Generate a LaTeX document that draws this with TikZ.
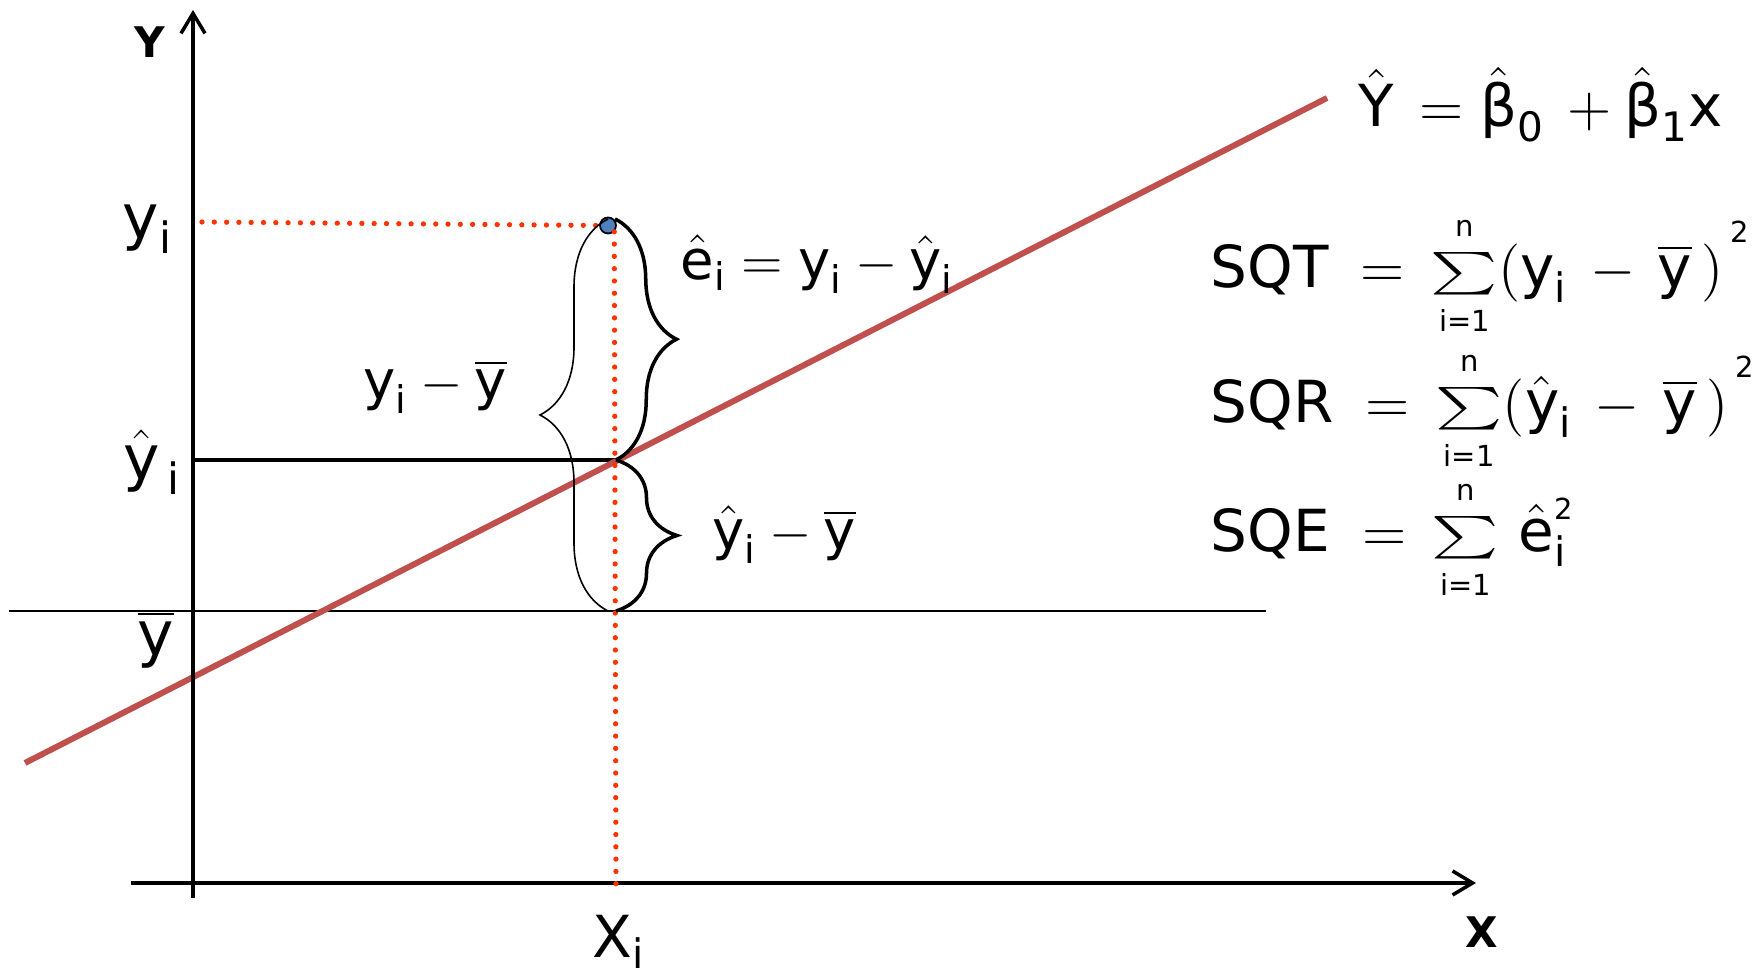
\documentclass[tikz,border=0pt]{standalone}
\usepackage{fix-cm}
\usepackage{amsmath}
\usepackage{graphicx}
\usepackage{fontspec}
\setmainfont{DejaVu Sans}
\usetikzlibrary{arrows.meta}
\usetikzlibrary{decorations.pathreplacing}
\usetikzlibrary{positioning}

\definecolor{fitred}{RGB}{192,80,77}
\definecolor{dotred}{RGB}{255,51,0}
\definecolor{ptblue}{RGB}{79,129,189}

\newcommand{\tv}[1]{\text{#1}}
\newcommand{\sqpow}{^{\,\raisebox{7pt}{$\scriptscriptstyle\tv{2}$}}}
\newcommand{\sumn}{\mathop{\vcenter{\hbox{\scalebox{1.05}[0.7]{$\sum$}}}}\limits_{\scriptscriptstyle\tv{i=1}}^{\raisebox{1pt}{$\scriptscriptstyle\tv{n}$}}}

\tikzset{
  axisline/.style={line width=1pt,-{Straight Barb[length=2mm,width=2.4mm,line width=1pt]}},
  fitline/.style={line width=1.7pt,color=fitred},
  guide/.style={color=dotred,line width=1.5pt,line cap=round,dash pattern=on 0pt off 3.5pt},
  thickbrace/.style={decorate,decoration={brace,amplitude=6.1mm},line width=1pt},
  thinbrace/.style={decorate,decoration={brace,amplitude=6.8mm},line width=0.45pt},
  axlbl/.style={font=\fontsize{12}{14}\selectfont\bfseries,inner sep=0pt,anchor=base},
  lbl/.style={font=\fontsize{17.5}{20}\selectfont,inner sep=0pt,anchor=base west},
  mid/.style={font=\fontsize{15.5}{18}\selectfont,inner sep=0pt,anchor=base west},
  formula/.style={font=\fontsize{16.5}{19}\selectfont,inner sep=0pt,anchor=base west},
}

\begin{document}
\begin{tikzpicture}
\useasboundingbox (0,0) rectangle (17.6,9.79);

% fixed points
\coordinate (ybot) at (1.93,0.81);
\coordinate (ytop) at (1.93,9.69);
\coordinate (xleft) at (1.31,0.96);
\coordinate (xright) at (14.76,0.96);
\coordinate (fitA) at (0.25,2.16);
\coordinate (fitB) at (13.27,8.81);
\coordinate (barL) at (0.09,3.68);
\coordinate (barR) at (12.66,3.68);
\coordinate (hatL) at (1.93,5.19);
\coordinate (hatP) at (6.16,5.19);
\coordinate (barP) at (6.16,3.68);
\coordinate (obsL) at (2.02,7.57);
\coordinate (obsT) at (6.15,7.60);
\coordinate (xiB) at (6.16,0.86);
\coordinate (totB) at (6.08,3.68);
\coordinate (totT) at (6.08,7.60);

% lines
\draw[line width=0.6pt] (barL) -- (barR);
\draw[line width=0.9pt] (hatL) -- (hatP);
\draw[fitline] (fitA) -- (fitB);
\draw[axisline] (ybot) -- (ytop);
\draw[axisline] (xleft) -- (xright);

\node[circle,draw,line width=0.5pt,fill=ptblue,minimum size=0.16cm,inner sep=0pt] (obs) at (6.08,7.535) {};
\draw[guide] (obsL) -- (obs.west);
\draw[guide] (obs.south east) -- (xiB);

% braces
\draw[thickbrace] (obsT) -- (hatP);
\draw[thickbrace] (hatP) -- (barP);
\draw[thinbrace] (totB) -- (totT);

% axis texts
\node[axlbl] (ylab) at (1.50,9.21) {Y};
\node[axlbl] (xlab) at (14.82,0.31) {X};
\node[lbl] (yi) at (1.22,7.40) {$\tv{y}_{\tv{i}}$};
\node[lbl] (yhi) at (1.23,4.99) {$\hat{\tv{y}}_{\,\tv{i}}$};
\node[lbl] (ybar) at (1.37,3.23) {$\overline{\tv{y}}$};
\node[formula] (xi) at (5.92,0.21) {$\tv{X}_{\tv{i}}$};

% brace texts
\node[mid] (res) at (6.80,6.99) {$\hat{\tv{e}}_{\tv{i}} = \tv{y}_{\tv{i}} - \hat{\tv{y}}_{\tv{i}}$};
\node[mid] (tot) at (3.63,5.79) {$\tv{y}_{\tv{i}} - \overline{\tv{y}}$};
\node[mid] (reg) at (7.12,4.29) {$\hat{\tv{y}}_{\tv{i}} - \overline{\tv{y}}$};

% formulas
\node[formula] (model) at (13.58,8.52) {$\hat{\tv{Y}} \,= \hat{\tv{β}}_{\tv{0}} \,+ \hat{\tv{β}}_{\tv{1}}\tv{x}$};
\node[formula] (sqt) at (12.10,6.91) {$\tv{SQT} \;=\, \sumn (\tv{y}_{\tv{i}} \,-\, \overline{\tv{y}}\,)\sqpow$};
\node[formula] (sqr) at (12.10,5.56) {$\tv{SQR} \;=\, \sumn (\hat{\tv{y}}_{\tv{i}} \,-\, \overline{\tv{y}}\,)\sqpow$};
\node[formula] (sqe) at (12.10,4.27) {$\tv{SQE} \;=\, \sumn \,\hat{\tv{e}}_{\tv{i}}^{\scriptscriptstyle\tv{2}}$};

\end{tikzpicture}
\end{document}
